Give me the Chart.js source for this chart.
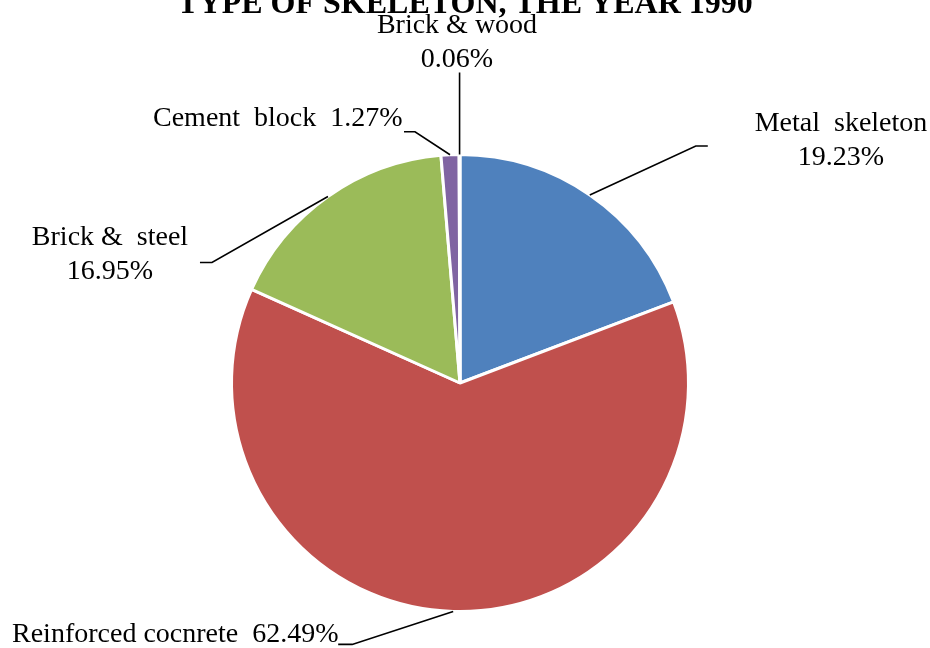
<!DOCTYPE html>
<html>
<head>
<meta charset="utf-8">
<script src="https://cdn.jsdelivr.net/npm/chart.js@4"></script>
<style>
  html, body { margin: 0; padding: 0; background: #fff; }
  #wrap { width: 930px; height: 648px; position: relative; }
</style>
</head>
<body>
<div id="wrap"><canvas id="pieChart"></canvas></div>
<script>
const titleText = "TYPE OF SKELETON, THE YEAR 1990";
const categories = ["Metal  skeleton", "Reinforced cocnrete", "Brick &  steel", "Cement  block", "Brick & wood"];
const shares = [19.23, 62.49, 16.95, 1.27, 0.06];
const sliceColors = ["#4f81bd", "#c0504d", "#9bbb59", "#8064a2", "#4bacc6"];

// label placement: text anchor, alignment, one or two lines, leader elbow offset from slice edge
const labelLayout = [
  { x: 841, y: 131, align: "center", twoLines: true, elbow: [106, -49], tail: 12 },
  { x: 12, y: 642, align: "left", twoLines: false, sep: "  ", elbow: [-101, 33], tail: -14 },
  { x: 110, y: 245, align: "center", twoLines: true, elbow: [-116, 66], tail: -12 },
  { x: 153, y: 126, align: "left", twoLines: false, sep: "  ", elbow: [-35, -23], tail: -11 },
  { x: 457, y: 33, align: "center", twoLines: true, elbow: [0, -82], tail: 0 }
];

const leaderLabels = {
  id: "leaderLabels",
  afterDraw(chart) {
    const ctx = chart.ctx;
    const arcs = chart.getDatasetMeta(0).data;
    ctx.save();
    ctx.fillStyle = "#000";
    ctx.strokeStyle = "#000";
    ctx.lineWidth = 1.6;
    ctx.font = "28px 'Liberation Serif', 'Times New Roman', serif";
    ctx.textBaseline = "alphabetic";
    arcs.forEach((arc, i) => {
      const p = arc.getProps(["x", "y", "startAngle", "endAngle", "outerRadius"], true);
      const mid = (p.startAngle + p.endAngle) / 2;
      const sx = p.x + Math.cos(mid) * p.outerRadius;
      const sy = p.y + Math.sin(mid) * p.outerRadius;
      const L = labelLayout[i];
      const ex = sx + L.elbow[0], ey = sy + L.elbow[1];
      ctx.beginPath();
      ctx.moveTo(sx, sy);
      ctx.lineTo(ex, ey);
      ctx.lineTo(ex + L.tail, ey);
      ctx.stroke();
      const pct = shares[i].toFixed(2) + "%";
      ctx.textAlign = L.align;
      if (L.twoLines) {
        ctx.fillText(categories[i], L.x, L.y);
        ctx.fillText(pct, L.x, L.y + 34);
      } else {
        ctx.fillText(categories[i] + L.sep + pct, L.x, L.y);
      }
    });
    // title, clipped at the top edge like the source
    ctx.font = "bold 32px 'Liberation Serif', 'Times New Roman', serif";
    ctx.textAlign = "center";
    ctx.fillText(titleText, 465, 13);
    ctx.restore();
  }
};

new Chart(document.getElementById("pieChart"), {
  type: "pie",
  data: {
    labels: categories,
    datasets: [{
      data: shares,
      backgroundColor: sliceColors,
      borderColor: "#ffffff",
      borderWidth: 3,
      hoverOffset: 0
    }]
  },
  options: {
    responsive: true,
    maintainAspectRatio: false,
    animation: false,
    rotation: 0,
    layout: { padding: { top: 152, bottom: 34, left: 230, right: 240 } },
    plugins: {
      legend: { display: false },
      title: { display: false },
      tooltip: { enabled: false }
    }
  },
  plugins: [leaderLabels]
});
</script>
</body>
</html>
